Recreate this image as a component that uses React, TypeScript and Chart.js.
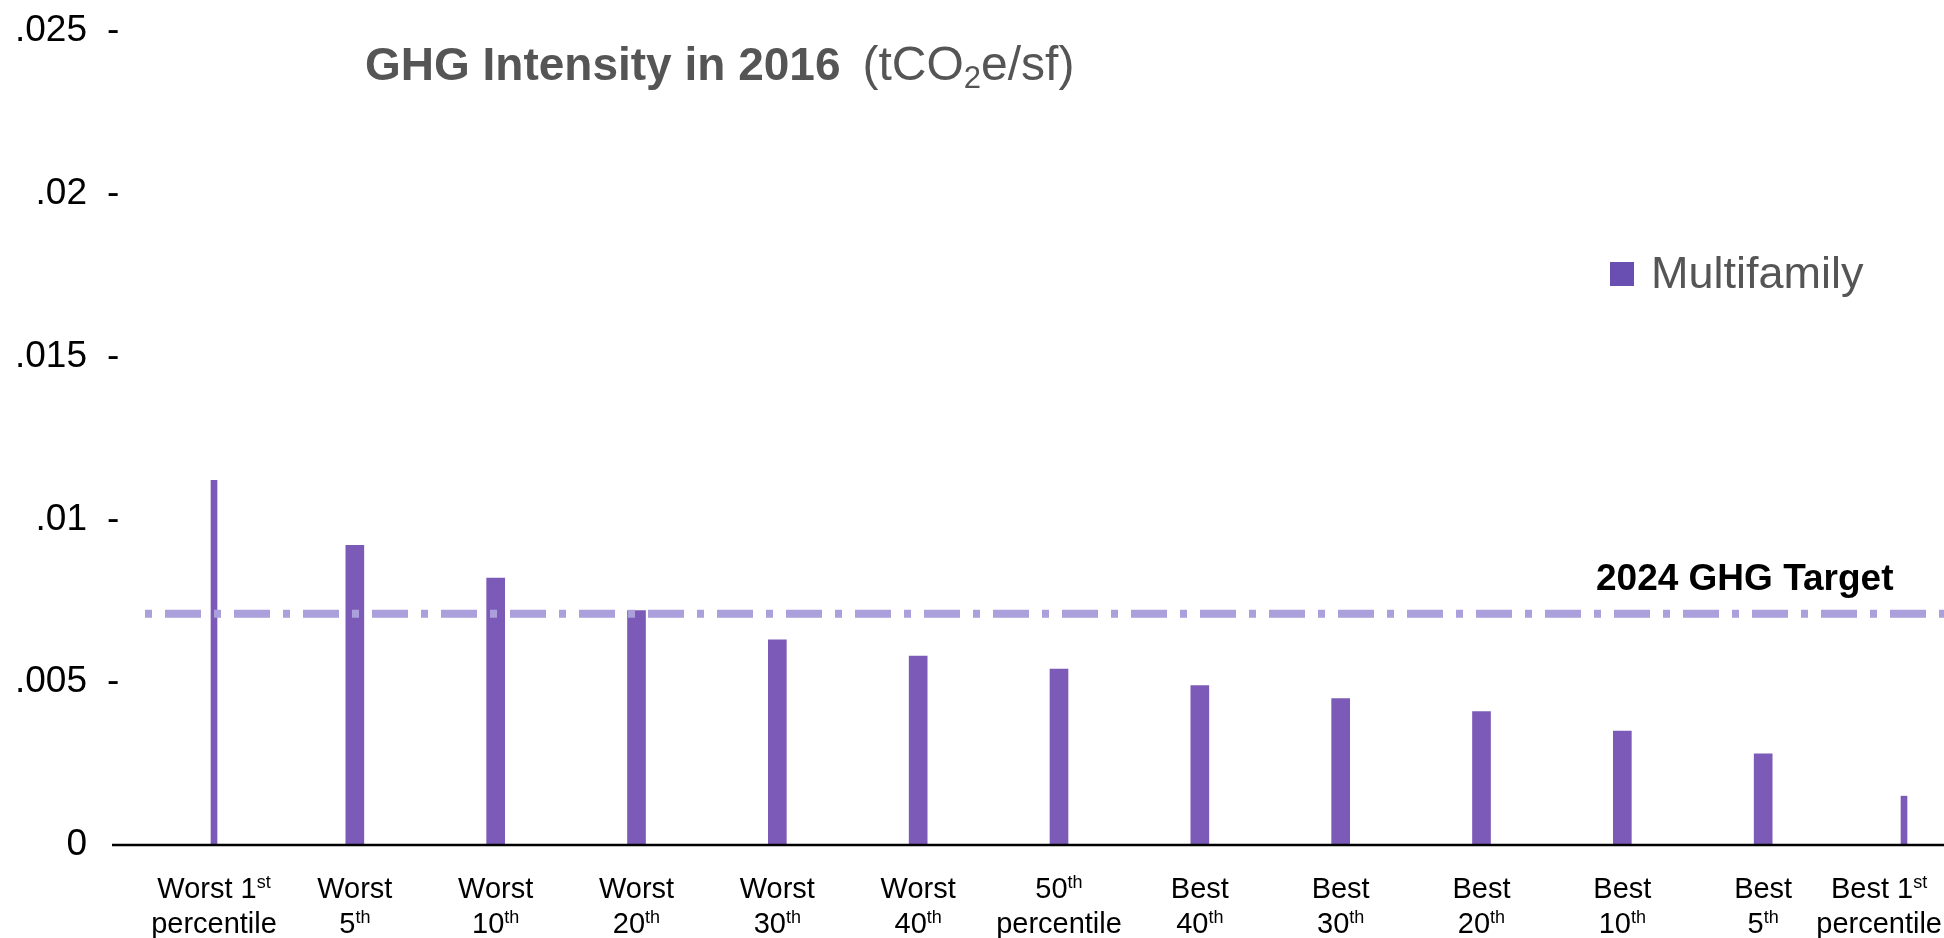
import React, { useEffect, useRef } from "react";
import { Chart, registerables } from "chart.js";

Chart.register(...registerables);

// ---------- data ----------
const categories: string[][] = [
  ["Worst 1st", "percentile"],
  ["Worst", "5th"],
  ["Worst", "10th"],
  ["Worst", "20th"],
  ["Worst", "30th"],
  ["Worst", "40th"],
  ["50th", "percentile"],
  ["Best", "40th"],
  ["Best", "30th"],
  ["Best", "20th"],
  ["Best", "10th"],
  ["Best", "5th"],
  ["Best 1st", "percentile"],
];
const multifamily: number[] = [
  0.0112, 0.0092, 0.0082, 0.0072, 0.0063, 0.0058, 0.0054, 0.0049, 0.0045, 0.0041, 0.0035, 0.0028, 0.0015,
];
const yTickValues: number[] = [0, 0.005, 0.01, 0.015, 0.02, 0.025];
const yTickLabels: string[] = ["0", ".005", ".01", ".015", ".02", ".025"];
const target2024 = 0.0071;
const seriesName = "Multifamily";
const titleBold = "GHG Intensity in 2016";
const titleUnitParts: string[] = ["(tCO", "2", "e/sf)"];
const targetLabel = "2024 GHG Target";

// ---------- styling ----------
const FONT = '"Liberation Sans", Arial, Helvetica, sans-serif';
const BAR_COLOR = "#7b5bb7";
const W = 1944;
const H = 938;

type Seg = { t: string; sup: boolean };
function splitOrdinal(text: string): Seg[] {
  const segs: Seg[] = [];
  const re = /(\d+)(st|nd|rd|th)\b/g;
  let last = 0;
  let m: RegExpExecArray | null;
  while ((m = re.exec(text))) {
    const end = m.index + m[1].length;
    segs.push({ t: text.slice(last, end), sup: false });
    segs.push({ t: m[2], sup: true });
    last = end + m[2].length;
  }
  if (last < text.length) segs.push({ t: text.slice(last), sup: false });
  return segs;
}

function measureOrdinal(ctx: CanvasRenderingContext2D, text: string, size: number): number {
  let w = 0;
  for (const s of splitOrdinal(text)) {
    ctx.font = `${s.sup ? Math.round(size * 0.62) : size}px ${FONT}`;
    w += ctx.measureText(s.t).width;
  }
  return w;
}

function drawOrdinal(ctx: CanvasRenderingContext2D, text: string, cx: number, baseline: number, size: number) {
  const total = measureOrdinal(ctx, text, size);
  let x = cx - total / 2;
  ctx.textAlign = "left";
  ctx.textBaseline = "alphabetic";
  for (const s of splitOrdinal(text)) {
    const sz = s.sup ? Math.round(size * 0.62) : size;
    ctx.font = `${sz}px ${FONT}`;
    ctx.fillText(s.t, x, s.sup ? baseline - size * 0.36 : baseline);
    x += ctx.measureText(s.t).width;
  }
}

const decorPlugin = {
  id: "decor",
  afterDatasetsDraw(chart: any) {
    const ctx: CanvasRenderingContext2D = chart.ctx;
    const y = chart.scales.y;
    const ty = y.getPixelForValue(target2024);
    ctx.save();
    ctx.strokeStyle = "#ab9fdc";
    ctx.lineWidth = 8;
    ctx.setLineDash([36, 13, 7, 13]);
    ctx.lineDashOffset = 36;
    ctx.beginPath();
    ctx.moveTo(132, ty);
    ctx.lineTo(W, ty);
    ctx.stroke();
    ctx.restore();
  },
  afterDraw(chart: any) {
    const ctx: CanvasRenderingContext2D = chart.ctx;
    const xs = chart.scales.x;
    const ys = chart.scales.y;
    ctx.save();

    // x axis line
    const y0 = ys.getPixelForValue(0);
    ctx.strokeStyle = "#000";
    ctx.lineWidth = 2.5;
    ctx.beginPath();
    ctx.moveTo(112, y0);
    ctx.lineTo(W, y0);
    ctx.stroke();

    // y tick labels
    ctx.fillStyle = "#000";
    ctx.font = `37px ${FONT}`;
    ctx.textBaseline = "middle";
    yTickValues.forEach((v, i) => {
      const py = ys.getPixelForValue(v);
      ctx.textAlign = "right";
      ctx.fillText(yTickLabels[i], 87, py);
      if (v !== 0) {
        ctx.textAlign = "left";
        ctx.fillText("-", 107, py);
      }
    });

    // category labels
    const size = 29;
    categories.forEach((lines, i) => {
      let cx = xs.getPixelForValue(i);
      const maxW = Math.max(...lines.map((l) => measureOrdinal(ctx, l, size)));
      cx = Math.min(cx, W - maxW / 2 - 2);
      ctx.fillStyle = "#000";
      lines.forEach((l, j) => drawOrdinal(ctx, l, cx, 898 + j * 35, size));
    });

    // title
    ctx.fillStyle = "#555555";
    ctx.textAlign = "left";
    ctx.textBaseline = "alphabetic";
    const tSize = 46;
    ctx.font = `bold ${tSize}px ${FONT}`;
    let tx = 365;
    const tb = 80;
    ctx.fillText(titleBold, tx, tb);
    tx += ctx.measureText(titleBold).width + 22;
    const uSize = 48;
    ctx.font = `${uSize}px ${FONT}`;
    ctx.fillText(titleUnitParts[0], tx, tb);
    tx += ctx.measureText(titleUnitParts[0]).width;
    ctx.font = `${Math.round(uSize * 0.65)}px ${FONT}`;
    ctx.fillText(titleUnitParts[1], tx, tb + 8);
    tx += ctx.measureText(titleUnitParts[1]).width;
    ctx.font = `${uSize}px ${FONT}`;
    ctx.fillText(titleUnitParts[2], tx, tb);

    // legend
    ctx.fillStyle = "#6a4fb3";
    ctx.fillRect(1610, 262, 24, 24);
    ctx.fillStyle = "#555555";
    ctx.font = `45px ${FONT}`;
    ctx.textBaseline = "middle";
    ctx.fillText(seriesName, 1651, 276);

    // target label
    ctx.fillStyle = "#000";
    ctx.font = `bold 37px ${FONT}`;
    ctx.textBaseline = "alphabetic";
    ctx.fillText(targetLabel, 1596, 590);

    ctx.restore();
  },
};

export default function App() {
  const ref = useRef<HTMLCanvasElement | null>(null);
  useEffect(() => {
    if (!ref.current) return;
    const last = multifamily.length - 1;
    const thin = (i: number) => i === 0 || i === last;
    const chart = new Chart(ref.current, {
      type: "bar",
      data: {
        labels: categories,
        datasets: [
          {
            label: seriesName,
            data: multifamily.map((v, i) => (thin(i) ? null : v)),
            backgroundColor: BAR_COLOR,
            barThickness: 18,
            grouped: false,
            clip: false,
          } as any,
          {
            label: seriesName + " (edge)",
            data: multifamily.map((v, i) => (thin(i) ? v : null)),
            backgroundColor: BAR_COLOR,
            barThickness: 6,
            grouped: false,
            clip: false,
          } as any,
        ],
      },
      options: {
        animation: false,
        responsive: false,
        maintainAspectRatio: false,
        layout: { padding: { left: 214, right: 40, top: 31, bottom: 93 } },
        plugins: {
          legend: { display: false },
          title: { display: false },
          tooltip: { enabled: false },
        },
        scales: {
          x: { type: "category", offset: false, display: false, grid: { display: false } },
          y: { min: 0, max: 0.025, display: false, grid: { display: false } },
        },
      },
      plugins: [decorPlugin],
    });
    return () => chart.destroy();
  }, []);
  return (
    <div style={{ position: "fixed", left: 0, top: 0, width: W, height: H, background: "#fff" }}>
      <canvas ref={ref} width={W} height={H} style={{ width: W, height: H, display: "block" }} />
    </div>
  );
}
